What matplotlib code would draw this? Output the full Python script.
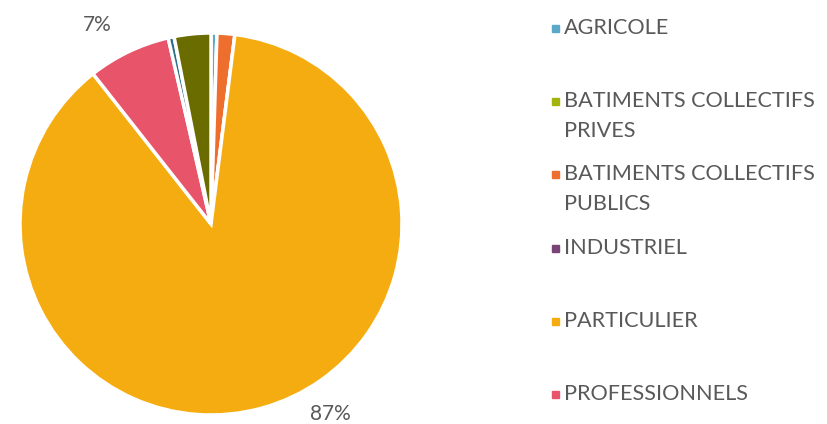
import matplotlib
matplotlib.use('Agg')
import numpy as np
import matplotlib.pyplot as plt

# categories as in the legend (last two are not shown in the legend)
categories = ["AGRICOLE", "BATIMENTS COLLECTIFS\nPRIVES", "BATIMENTS COLLECTIFS\nPUBLICS",
              "INDUSTRIEL", "PARTICULIER", "PROFESSIONNELS", "AUTRE 1", "AUTRE 2"]
shares = [0.5, 0.0, 1.5, 0.0, 87.4, 7.0, 0.5, 3.1]
colors = ["#5BA8C8", "#A5B40A", "#EE6E2E", "#7A4478", "#F5AC10", "#E8556B", "#2E6F88", "#6A6C00"]
shown_labels = {4: "87%", 5: "7%"}
n_legend = 6

plt.rcParams['font.family'] = ['Lato', 'DejaVu Sans']
txt_color = "#595959"

fig = plt.figure(figsize=(8.28, 4.24), dpi=100)
ax = fig.add_axes([20 / 828, 9 / 424, 382 / 828, 382 / 424])
wedges, _ = ax.pie(shares, colors=colors, startangle=90, counterclock=False,
                   wedgeprops=dict(edgecolor="white", linewidth=2.5))
ax.set_xlim(-1, 1)
ax.set_ylim(-1, 1)
ax.set_aspect('equal')

# data label positions (Excel best fit)
label_pos = {4: (0.623, -0.995), 5: (-0.597, 1.04)}
for i, s in shown_labels.items():
    x, y = label_pos[i]
    ax.text(x, y, s, ha="center", va="center", fontsize=15, color=txt_color,
            clip_on=False)

# legend drawn entry by entry, evenly spaced like Excel
for i in range(n_legend):
    y = 1 - (28 + 73.2 * i) / 424
    fig.patches.append(plt.Rectangle((552 / 828, y - 4 / 424), 7 / 828, 7 / 424,
                                     transform=fig.transFigure, color=colors[i]))
    fig.text(564 / 828, y + 10 / 424, categories[i], ha="left", va="top",
             fontsize=15.6, color=txt_color, linespacing=1.6)

fig.savefig("out.png", dpi=100)
